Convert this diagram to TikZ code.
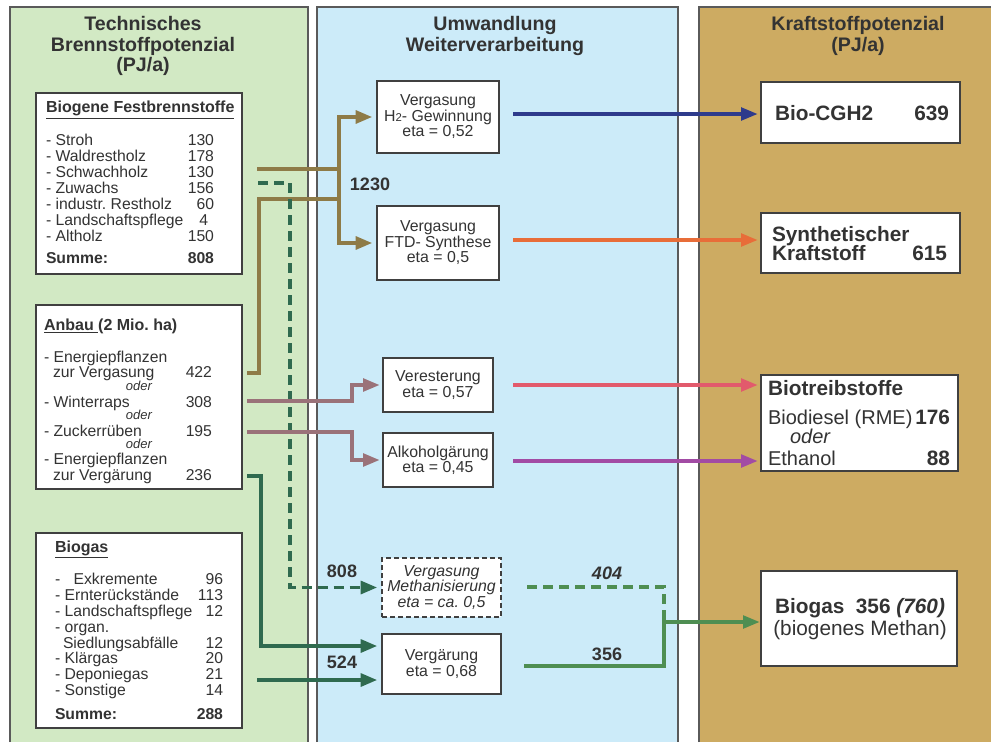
\documentclass[tikz,border=0pt]{standalone}
\usepackage{fontspec}
\setmainfont{Liberation Sans}
\usetikzlibrary{arrows.meta,calc}
\frenchspacing
\definecolor{tc}{HTML}{333333}
\definecolor{colGreen}{HTML}{D2E9C4}
\definecolor{colBlue}{HTML}{CCEBF9}
\definecolor{colTan}{HTML}{CDAB62}
\definecolor{colLine}{HTML}{5A5A5A}
\definecolor{boxLine}{HTML}{404040}
\definecolor{cOlive}{HTML}{8E7B47}
\definecolor{cDkGreen}{HTML}{2F6A4F}
\definecolor{cMauve}{HTML}{9A7279}
\definecolor{cNavy}{HTML}{2E3B8C}
\definecolor{cOrange}{HTML}{E86D39}
\definecolor{cPink}{HTML}{E25A6C}
\definecolor{cPurple}{HTML}{A24BA4}
\definecolor{cRGreen}{HTML}{4E8E52}
\tikzset{
  every node/.style={text=tc, inner sep=0pt, outer sep=0pt},
  box/.style={draw=boxLine, line width=1.1pt, fill=white, anchor=north west},
  mbox/.style={box, align=center, font=\fontsize{11.9}{11.6}\selectfont},
  hdr/.style={anchor=base, font=\fontsize{14.7}{15}\bfseries\selectfont},
  ttl/.style={anchor=base west, font=\fontsize{12}{13}\bfseries\selectfont},
  itm/.style={font=\fontsize{11.8}{12}\selectfont},
  itmb/.style={font=\fontsize{11.8}{12}\bfseries\selectfont},
  odr/.style={anchor=base, font=\fontsize{9.75}{10}\itshape\selectfont},
  rb/.style={font=\fontsize{15.6}{16}\bfseries\selectfont},
  rn/.style={font=\fontsize{15}{16}\selectfont},
  lbl/.style={font=\fontsize{13.5}{14}\bfseries\selectfont},
  conn/.style={line width=2.9pt, line join=miter, >={Triangle[length=12.5pt,width=9.5pt]}},
  oline/.style={conn, draw=cOlive},
  dgline/.style={conn, draw=cDkGreen},
  mline/.style={conn, draw=cMauve, line width=2.7pt},
  rline/.style={conn, line width=2.5pt},
  dashpat/.style={dash pattern=on 7.5pt off 4.5pt},
}
\begin{document}
\begin{tikzpicture}[x=0.75pt,y=-0.75pt]
\useasboundingbox (0,0) rectangle (991,742);
% columns
\fill[colGreen] (10,7) rectangle (308,742);
\draw[colLine, line width=1.1pt] (10,742) -- (10,7) -- (308,7) -- (308,742);
\fill[colBlue] (317,7) rectangle (678,742);
\draw[colLine, line width=1.1pt] (317,742) -- (317,7) -- (678,7) -- (678,742);
\fill[colTan] (699,7) rectangle (991,742);
\draw[colLine, line width=1.1pt] (699,742) -- (699,7) -- (991,7);
% headers
\node[hdr] (h1a) at (143,31) {Technisches};
\node[hdr] (h1b) at (143,51) {Brennstoffpotenzial};
\node[hdr] (h1c) at (143,71) {(PJ/a)};
\node[hdr] (h2a) at (495,31) {Umwandlung};
\node[hdr] (h2b) at (495,51) {Weiterverarbeitung};
\node[hdr] (h3a) at (858,31) {Kraftstoffpotenzial};
\node[hdr] (h3b) at (858,51) {(PJ/a)};
% box 1
\node[box, minimum width=154.5pt, minimum height=135.75pt] (b1) at (36,93) {};
\node[ttl] (b1title) at (46,113) {\underline{Biogene Festbrennstoffe}};
\foreach \t/\n/\y/\r [count=\i] in {Stroh/130/145/214, Waldrestholz/178/161/214, Schwachholz/130/177/214, Zuwachs/156/193/214, industr. Restholz/60/209/214, Landschaftspflege/4/225/208, Altholz/150/241/214}{
  \node[itm, anchor=base west] (b1t\i) at (46,\y) {- \t};
  \node[itm, anchor=base east] (b1n\i) at (\r,\y) {\n};
}
\node[itmb, anchor=base west] (b1s) at (46,263) {Summe:};
\node[itmb, anchor=base east] (b1sn) at (214,263) {808};
% box 2
\node[box, minimum width=154.5pt, minimum height=138pt] (b2) at (36,305) {};
\node[ttl] (b2title) at (44,330) {\underline{Anbau }(2 Mio. ha)};
\node[itm, anchor=base west] (b2a) at (44,362) {- Energiepflanzen};
\node[itm, anchor=base west] (b2b) at (53,377) {zur Vergasung};
\node[itm, anchor=base east] (b2bn) at (212,377) {422};
\node[odr] (b2o1) at (139,390) {oder};
\node[itm, anchor=base west] (b2c) at (44,407) {- Winterraps};
\node[itm, anchor=base east] (b2cn) at (212,407) {308};
\node[odr] (b2o2) at (139,419) {oder};
\node[itm, anchor=base west] (b2d) at (44,436) {- Zuckerrüben};
\node[itm, anchor=base east] (b2dn) at (212,436) {195};
\node[odr] (b2o3) at (139,448) {oder};
\node[itm, anchor=base west] (b2e) at (44,464) {- Energiepflanzen};
\node[itm, anchor=base west] (b2f) at (53,480) {zur Vergärung};
\node[itm, anchor=base east] (b2fn) at (212,480) {236};
% box 3
\node[box, minimum width=154.5pt, minimum height=146.25pt] (b3) at (36,533) {};
\node[ttl] (b3title) at (55,552) {\underline{Biogas}};
\foreach \t/\n/\y/\x [count=\i] in {{-\hspace{10pt}Exkremente}/96/584/55, - Ernterückstände/113/600/55, - Landschaftspflege/12/616/55, - organ./{}/632/55, Siedlungsabfälle/12/648/63, - Klärgas/20/663/55, - Deponiegas/21/679/55, - Sonstige/14/695/55}{
  \node[itm, anchor=base west] (b3t\i) at (\x,\y) {\t};
  \node[itm, anchor=base east] (b3n\i) at (223,\y) {\n};
}
\node[itmb, anchor=base west] (b3s) at (55,719) {Summe:};
\node[itmb, anchor=base east] (b3sn) at (223,719) {288};
% middle boxes
\node[mbox, minimum width=91.5pt, minimum height=54pt] (h2) at (377,81) {Vergasung\\H{\fontsize{8.5}{8}\selectfont 2}- Gewinnung\\eta = 0,52};
\node[mbox, minimum width=91.5pt, minimum height=55.5pt] (ftd) at (377,206) {Vergasung\\FTD- Synthese\\eta = 0,5};
\node[mbox, minimum width=82.5pt, minimum height=40.5pt] (ver) at (383,358) {Veresterung\\eta = 0,57};
\node[mbox, minimum width=82.5pt, minimum height=40.5pt] (alk) at (383,433) {Alkoholgärung\\eta = 0,45};
\node[mbox, dash pattern=on 3.5pt off 2.5pt, font=\fontsize{11.9}{11.6}\itshape\selectfont, minimum width=89.25pt, minimum height=44.25pt] (meth) at (382,558) {Vergasung\\Methanisierung\\eta = ca. 0,5};
\node[mbox, minimum width=89.25pt, minimum height=45pt] (gaer) at (382,634) {Vergärung\\eta = 0,68};
% right boxes
\node[box, minimum width=149.25pt, minimum height=45.75pt] (cgh) at (761,82) {};
\node[rb, anchor=base west] (cght) at (775,120) {Bio-CGH2};
\node[rb, anchor=base east] (cghn) at (949,120) {639};
\node[box, minimum width=149.25pt, minimum height=45pt] (syn) at (761,213) {};
\node[rb, anchor=base west] (synt1) at (772,241) {Synthetischer};
\node[rb, anchor=base west] (synt2) at (772,260) {Kraftstoff};
\node[rb, anchor=base east] (synn) at (947,260) {615};
\node[box, minimum width=147.75pt, minimum height=72pt] (bio) at (761,375) {};
\node[rb, anchor=base west] (biot) at (768,395) {Biotreibstoffe};
\node[rn, anchor=base west] (biod) at (768,424) {Biodiesel (RME)};
\node[rb, anchor=base east] (biodn) at (950,424) {176};
\node[rn, anchor=base west, font=\fontsize{15}{16}\itshape\selectfont] (bioo) at (790,443) {oder};
\node[rn, anchor=base west] (bioe) at (768,465) {Ethanol};
\node[rb, anchor=base east] (bioen) at (950,465) {88};
\node[box, minimum width=147pt, minimum height=71.25pt] (gas) at (761,571) {};
\node[rb, anchor=base] (gast1) at (860,613) {Biogas\ \ 356 \textit{(760)}};
\node[rn, anchor=base, font=\fontsize{15.6}{16}\selectfont] (gast2) at (860,635) {(biogenes Methan)};
% labels
\node[lbl] (l1230) at (370,184) {1230};
\node[lbl] (l808) at (342,571) {808};
\node[lbl] (l524) at (342,662) {524};
\node[lbl, font=\fontsize{13.5}{14}\bfseries\itshape\selectfont] (l404) at (607,573) {404};
\node[lbl] (l356) at (607,654) {356};
% olive connectors
\coordinate (busx) at (339,0);
\coordinate (o1) at (257,169);
\coordinate (o2) at (247,373);
\coordinate (o3) at (259,199);
\draw[oline] (o1) -- (o1 -| busx);
\draw[oline] (o2) -| (o3) -- (o3 -| busx);
\draw[oline, <->, shorten <=3.5pt, shorten >=3.5pt] (h2.west) -- (h2.west -| busx) -- (ftd.west -| busx) -- (ftd.west);
% dark green dashed
\coordinate (g1) at (258,183);
\coordinate (gx) at (290,0);
\draw[dgline, dashpat, ->, shorten >=3.5pt] (g1) -- (g1 -| gx) |- (meth.west);
% dark green solid
\coordinate (d1) at (247,476);
\coordinate (dx) at (261,0);
\coordinate (gin1) at ($(gaer.north west)+(0,12)$);
\coordinate (gin2) at ($(gaer.north west)+(0,46)$);
\coordinate (d2) at (257,680);
\draw[dgline, ->, shorten >=3.5pt] (d1) -- (d1 -| dx) |- (gin1);
\draw[dgline, ->, shorten >=3.5pt] (d2) -- (gin2);
% mauve
\coordinate (mx) at (352,0);
\coordinate (m1) at (247,401);
\coordinate (m2) at (247,432);
\draw[mline, ->, shorten >=2.5pt] (m1) -- (m1 -| mx) |- (ver.west);
\draw[mline, ->, shorten >=2.5pt] (m2) -- (m2 -| mx) |- (alk.west);
% right arrows
\coordinate (r1) at (513,114);
\coordinate (r2) at (513,240);
\coordinate (r3) at (513,385);
\coordinate (r4) at (513,461);
\draw[rline, draw=cNavy, ->, shorten >=2.5pt] (r1) -- (r1 -| cgh.west);
\draw[rline, draw=cOrange, ->, shorten >=2.5pt] (r2) -- (r2 -| syn.west);
\draw[rline, draw=cPink, ->, shorten >=2.5pt] (r3) -- (r3 -| bio.west);
\draw[rline, draw=cPurple, ->, shorten >=2.5pt] (r4) -- (r4 -| bio.west);
\coordinate (rg1) at (524,666);
\coordinate (rd1) at (527,587);
\coordinate (rgc) at (664,622);
\draw[rline, draw=cRGreen, dashpat] (rd1) -| (rgc);
\draw[rline, draw=cRGreen, ->, shorten >=1pt] (rg1) -| (rgc) -- (rgc -| gas.west);
\end{tikzpicture}
\end{document}
